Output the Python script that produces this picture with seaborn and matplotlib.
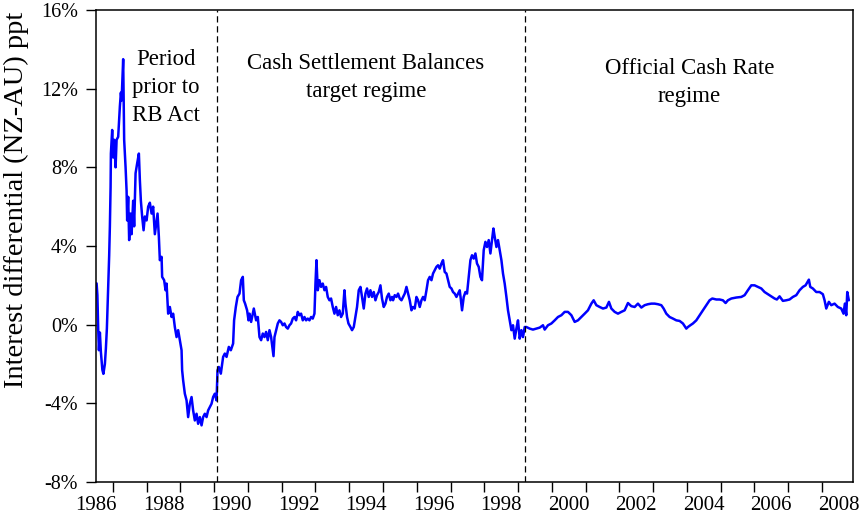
import numpy as np
import pandas as pd
import matplotlib
matplotlib.use("Agg")
import matplotlib.pyplot as plt
import seaborn as sns

# interest differential NZ minus AU, ppt
years = [
    1986.518, 1986.541, 1986.565, 1986.586, 1986.615, 1986.645, 1986.689, 1986.719, 1986.763, 1986.793,
    1986.822, 1986.861, 1986.890, 1986.911, 1986.932, 1986.941, 1986.979, 1987.009, 1987.038, 1987.080,
    1987.110, 1987.157, 1987.207, 1987.237, 1987.258, 1987.305, 1987.334, 1987.376, 1987.406, 1987.423,
    1987.453, 1987.482, 1987.524, 1987.554, 1987.601, 1987.630, 1987.672, 1987.719, 1987.770, 1987.799,
    1987.829, 1987.867, 1987.909, 1987.947, 1987.998, 1988.045, 1988.095, 1988.146, 1988.193, 1988.243,
    1988.323, 1988.362, 1988.391, 1988.442, 1988.459, 1988.518, 1988.560, 1988.590, 1988.637, 1988.687,
    1988.738, 1988.785, 1988.835, 1988.886, 1988.933, 1988.983, 1989.034, 1989.051, 1989.081, 1989.131,
    1989.182, 1989.229, 1989.279, 1989.330, 1989.377, 1989.427, 1989.478, 1989.525, 1989.575, 1989.626,
    1989.673, 1989.723, 1989.774, 1989.821, 1989.871, 1989.922, 1989.969, 1990.019, 1990.070, 1990.099,
    1990.138, 1990.197, 1990.265, 1990.315, 1990.366, 1990.434, 1990.493, 1990.561, 1990.590, 1990.641,
    1990.691, 1990.750, 1990.798, 1990.848, 1990.878, 1990.916, 1990.975, 1991.017, 1991.046, 1991.094,
    1991.174, 1991.242, 1991.292, 1991.342, 1991.390, 1991.440, 1991.490, 1991.538, 1991.588, 1991.638,
    1991.686, 1991.757, 1991.786, 1991.834, 1991.884, 1991.934, 1991.982, 1992.032, 1992.082, 1992.130,
    1992.180, 1992.230, 1992.278, 1992.328, 1992.378, 1992.426, 1992.476, 1992.526, 1992.574, 1992.624,
    1992.674, 1992.722, 1992.772, 1992.822, 1992.870, 1992.920, 1992.970, 1993.000, 1993.030, 1993.068,
    1993.118, 1993.166, 1993.216, 1993.266, 1993.314, 1993.364, 1993.414, 1993.462, 1993.512, 1993.562,
    1993.610, 1993.660, 1993.710, 1993.758, 1993.808, 1993.858, 1993.888, 1993.935, 1993.977, 1994.036,
    1994.083, 1994.134, 1994.184, 1994.231, 1994.282, 1994.332, 1994.379, 1994.430, 1994.480, 1994.527,
    1994.578, 1994.628, 1994.675, 1994.726, 1994.776, 1994.823, 1994.874, 1994.924, 1994.971, 1995.022,
    1995.072, 1995.119, 1995.170, 1995.220, 1995.267, 1995.298, 1995.348, 1995.399, 1995.446, 1995.496,
    1995.547, 1995.594, 1995.644, 1995.695, 1995.742, 1995.792, 1995.843, 1995.890, 1995.940, 1995.991,
    1996.038, 1996.088, 1996.139, 1996.186, 1996.236, 1996.287, 1996.334, 1996.384, 1996.435, 1996.482,
    1996.532, 1996.583, 1996.630, 1996.680, 1996.731, 1996.778, 1996.828, 1996.879, 1996.926, 1996.976,
    1997.027, 1997.074, 1997.124, 1997.175, 1997.222, 1997.272, 1997.302, 1997.341, 1997.391, 1997.441,
    1997.489, 1997.539, 1997.589, 1997.636, 1997.687, 1997.737, 1997.784, 1997.835, 1997.885, 1997.932,
    1997.983, 1998.033, 1998.080, 1998.131, 1998.181, 1998.228, 1998.270, 1998.309, 1998.359, 1998.406,
    1998.456, 1998.507, 1998.554, 1998.604, 1998.655, 1998.702, 1998.752, 1998.803, 1998.850, 1998.901,
    1998.951, 1998.998, 1999.049, 1999.099, 1999.146, 1999.197, 1999.247, 1999.345, 1999.442, 1999.641,
    1999.738, 1999.789, 1999.886, 1999.987, 2000.085, 2000.182, 2000.283, 2000.381, 2000.478, 2000.579,
    2000.677, 2000.774, 2000.875, 2000.973, 2001.070, 2001.171, 2001.239, 2001.319, 2001.417, 2001.515,
    2001.615, 2001.692, 2001.763, 2001.861, 2001.959, 2002.059, 2002.157, 2002.255, 2002.355, 2002.453,
    2002.551, 2002.651, 2002.749, 2002.847, 2002.947, 2003.045, 2003.143, 2003.243, 2003.311, 2003.391,
    2003.489, 2003.587, 2003.687, 2003.785, 2003.883, 2003.983, 2004.031, 2004.102, 2004.179, 2004.279,
    2004.377, 2004.475, 2004.575, 2004.673, 2004.753, 2004.872, 2004.969, 2005.067, 2005.147, 2005.215,
    2005.316, 2005.464, 2005.612, 2005.710, 2005.807, 2005.908, 2006.005, 2006.103, 2006.204, 2006.301,
    2006.399, 2006.500, 2006.597, 2006.665, 2006.745, 2006.843, 2006.944, 2007.041, 2007.139, 2007.240,
    2007.337, 2007.435, 2007.515, 2007.613, 2007.654, 2007.731, 2007.832, 2007.930, 2008.027, 2008.078,
    2008.128, 2008.205, 2008.276, 2008.374, 2008.471, 2008.572, 2008.640, 2008.679, 2008.720, 2008.750,
    2008.797,
]
differential = [
    2.1, 1.5, -0.2, -1.3, -0.4, -1.4, -2.3, -2.5, -2.0, -1.2,
    -0.2, 1.9, 3.5, 5.0, 7.0, 8.7, 9.9, 8.5, 9.4, 8.0,
    9.4, 9.55, 11.1, 11.8, 11.4, 13.5, 9.4, 8.0, 6.8, 5.3,
    6.5, 4.3, 5.65, 4.6, 6.3, 5.0, 7.7, 8.2, 8.7, 7.35,
    6.3, 5.5, 4.8, 5.5, 5.3, 6.0, 6.2, 5.65, 6.0, 4.6,
    5.65, 4.46, 3.28, 3.45, 2.43, 2.26, 1.75, 2.09, 0.56, 0.9,
    0.39, 0.56, -0.12, -0.63, -0.28, -0.79, -1.3, -2.32, -2.83, -3.51,
    -3.85, -4.7, -4.02, -3.68, -4.36, -4.87, -4.53, -5.04, -4.7, -5.12,
    -4.7, -4.53, -4.7, -4.36, -4.19, -4.02, -3.68, -3.51, -3.85, -2.32,
    -2.15, -2.49, -1.64, -1.47, -1.64, -1.13, -1.3, -0.96, 0.22, 0.9,
    1.41, 1.58, 2.26, 2.43, 1.24, 1.07, 0.73, 0.22, 0.56, 0.14,
    0.82, 0.22, 0.39, -0.63, -0.79, -0.45, -0.63, -0.37, -0.79, -0.28,
    -0.63, -1.6, -0.63, -0.28, 0.06, 0.22, 0.14, -0.03, 0.06, -0.12,
    -0.2, -0.03, 0.06, 0.31, 0.39, 0.22, 0.65, 0.48, 0.56, 0.22,
    0.39, 0.22, 0.31, 0.22, 0.39, 0.31, 0.56, 2.09, 3.28, 1.75,
    2.26, 1.92, 2.09, 1.75, 1.92, 1.41, 1.24, 1.33, 0.9, 0.56,
    0.9, 0.48, 0.73, 0.39, 0.56, 1.75, 1.07, 0.39, 0.06, -0.12,
    -0.28, -0.12, 0.39, 0.9, 1.75, 1.92, 1.41, 0.82, 1.58, 1.84,
    1.41, 1.75, 1.41, 1.66, 1.24, 1.5, 1.66, 2.0, 1.33, 0.9,
    1.07, 1.41, 1.58, 1.24, 1.41, 1.24, 1.5, 1.41, 1.58, 1.33,
    1.24, 1.41, 1.58, 1.92, 1.58, 1.24, 0.73, 0.9, 0.82, 1.41,
    1.24, 0.9, 1.24, 1.41, 1.24, 1.75, 2.26, 2.43, 2.26, 2.6,
    2.77, 2.94, 3.02, 2.85, 3.11, 3.28, 2.68, 2.6, 2.26, 1.92,
    1.84, 1.66, 1.58, 1.41, 1.58, 1.75, 1.33, 0.73, 1.41, 1.66,
    1.58, 2.43, 3.28, 3.53, 3.36, 3.62, 3.11, 2.94, 2.43, 2.26,
    3.79, 4.21, 3.95, 4.3, 3.62, 4.3, 4.89, 4.46, 3.95, 4.3,
    3.79, 3.28, 2.6, 2.09, 1.41, 0.73, 0.22, -0.28, -0.03, -0.71,
    -0.2, 0.22, -0.71, -0.28, -0.63, -0.12, -0.12, -0.2, -0.25, -0.15,
    -0.03, -0.25, -0.03, 0.06, 0.22, 0.39, 0.48, 0.65, 0.65, 0.48,
    0.14, 0.22, 0.39, 0.56, 0.73, 1.07, 1.24, 0.99, 0.9, 0.82,
    0.87, 1.16, 0.82, 0.65, 0.56, 0.65, 0.73, 1.1, 0.94, 0.9,
    1.07, 0.87, 0.99, 1.04, 1.07, 1.07, 1.04, 0.99, 0.82, 0.56,
    0.39, 0.31, 0.22, 0.19, 0.06, -0.2, -0.12, -0.03, 0.06, 0.22,
    0.48, 0.73, 0.99, 1.24, 1.33, 1.28, 1.28, 1.24, 1.1, 1.24,
    1.33, 1.38, 1.41, 1.5, 1.75, 2.0, 2.0, 1.92, 1.84, 1.66,
    1.55, 1.44, 1.33, 1.28, 1.44, 1.21, 1.24, 1.28, 1.41, 1.5,
    1.75, 1.92, 2.0, 2.29, 1.92, 1.84, 1.66, 1.66, 1.55, 1.24,
    0.82, 1.16, 0.99, 1.07, 0.9, 0.82, 0.56, 1.07, 0.48, 1.66,
    1.24,
]

regime_breaks = [1990.09, 1999.21]  # RB Act in force / OCR introduced
regime_labels = ["Period\nprior to\nRB Act", "Cash Settlement Balances\ntarget regime",
                 "Official Cash Rate\nregime"]
label_x = [1988.57, 1994.49, 2004.08]
label_y = [12.05, 12.55, 12.3]

y_ticks = [-8, -4, 0, 4, 8, 12, 16]
y_ticklabels = ["-8%", "-4%", "0%", "4%", "8%", "12%", "16%"]
year_labels = [1986, 1988, 1990, 1992, 1994, 1996, 1998, 2000, 2002, 2004, 2006, 2008]

df = pd.DataFrame({"year": years, "diff": differential})

sns.set_style("ticks")
plt.rcParams["font.family"] = ["Liberation Serif", "DejaVu Serif"]
plt.rcParams["axes.linewidth"] = 1.1
for key in ["text.color", "axes.labelcolor", "xtick.color", "ytick.color", "axes.edgecolor"]:
    plt.rcParams[key] = "black"

fig = plt.figure(figsize=(8.61, 5.18), dpi=100)
ax = fig.add_axes([96 / 861, 36 / 518, 757 / 861, 472 / 518])

sns.lineplot(data=df, x="year", y="diff", ax=ax, color="#0000ff", linewidth=1.8,
             estimator=None, sort=False)

for xb in regime_breaks:
    ax.axvline(xb, color="black", linestyle=(0, (5, 3)), linewidth=0.9)

for txt, tx, ty in zip(regime_labels, label_x, label_y):
    ax.text(tx, ty, txt, ha="center", va="center", fontsize=16.4, linespacing=1.45)

ax.set_xlim(1986.5, 2008.92)
ax.set_ylim(-8, 16)

# ticks at year boundaries, labels centred within the year
ax.set_xticks(np.arange(1987, 2009))
ax.set_xticklabels([])
ax.set_xticks([y + 0.5 for y in year_labels], minor=True)
ax.set_xticklabels([str(y) for y in year_labels], minor=True)
ax.tick_params(axis="x", which="major", length=7, width=1.0, direction="out")
ax.tick_params(axis="x", which="minor", length=0, pad=10, labelsize=15)

ax.set_yticks(y_ticks)
ax.set_yticklabels(y_ticklabels)
ax.tick_params(axis="y", length=7, width=1.0, direction="out", pad=6, labelsize=14.5)

ax.set_xlabel("")
ax.set_ylabel("Interest differential (NZ-AU) ppt", fontsize=20.5)
ax.yaxis.set_label_coords(-0.088, 0.597)

for s in ax.spines.values():
    s.set_visible(True)

fig.savefig("out.png", dpi=100)
